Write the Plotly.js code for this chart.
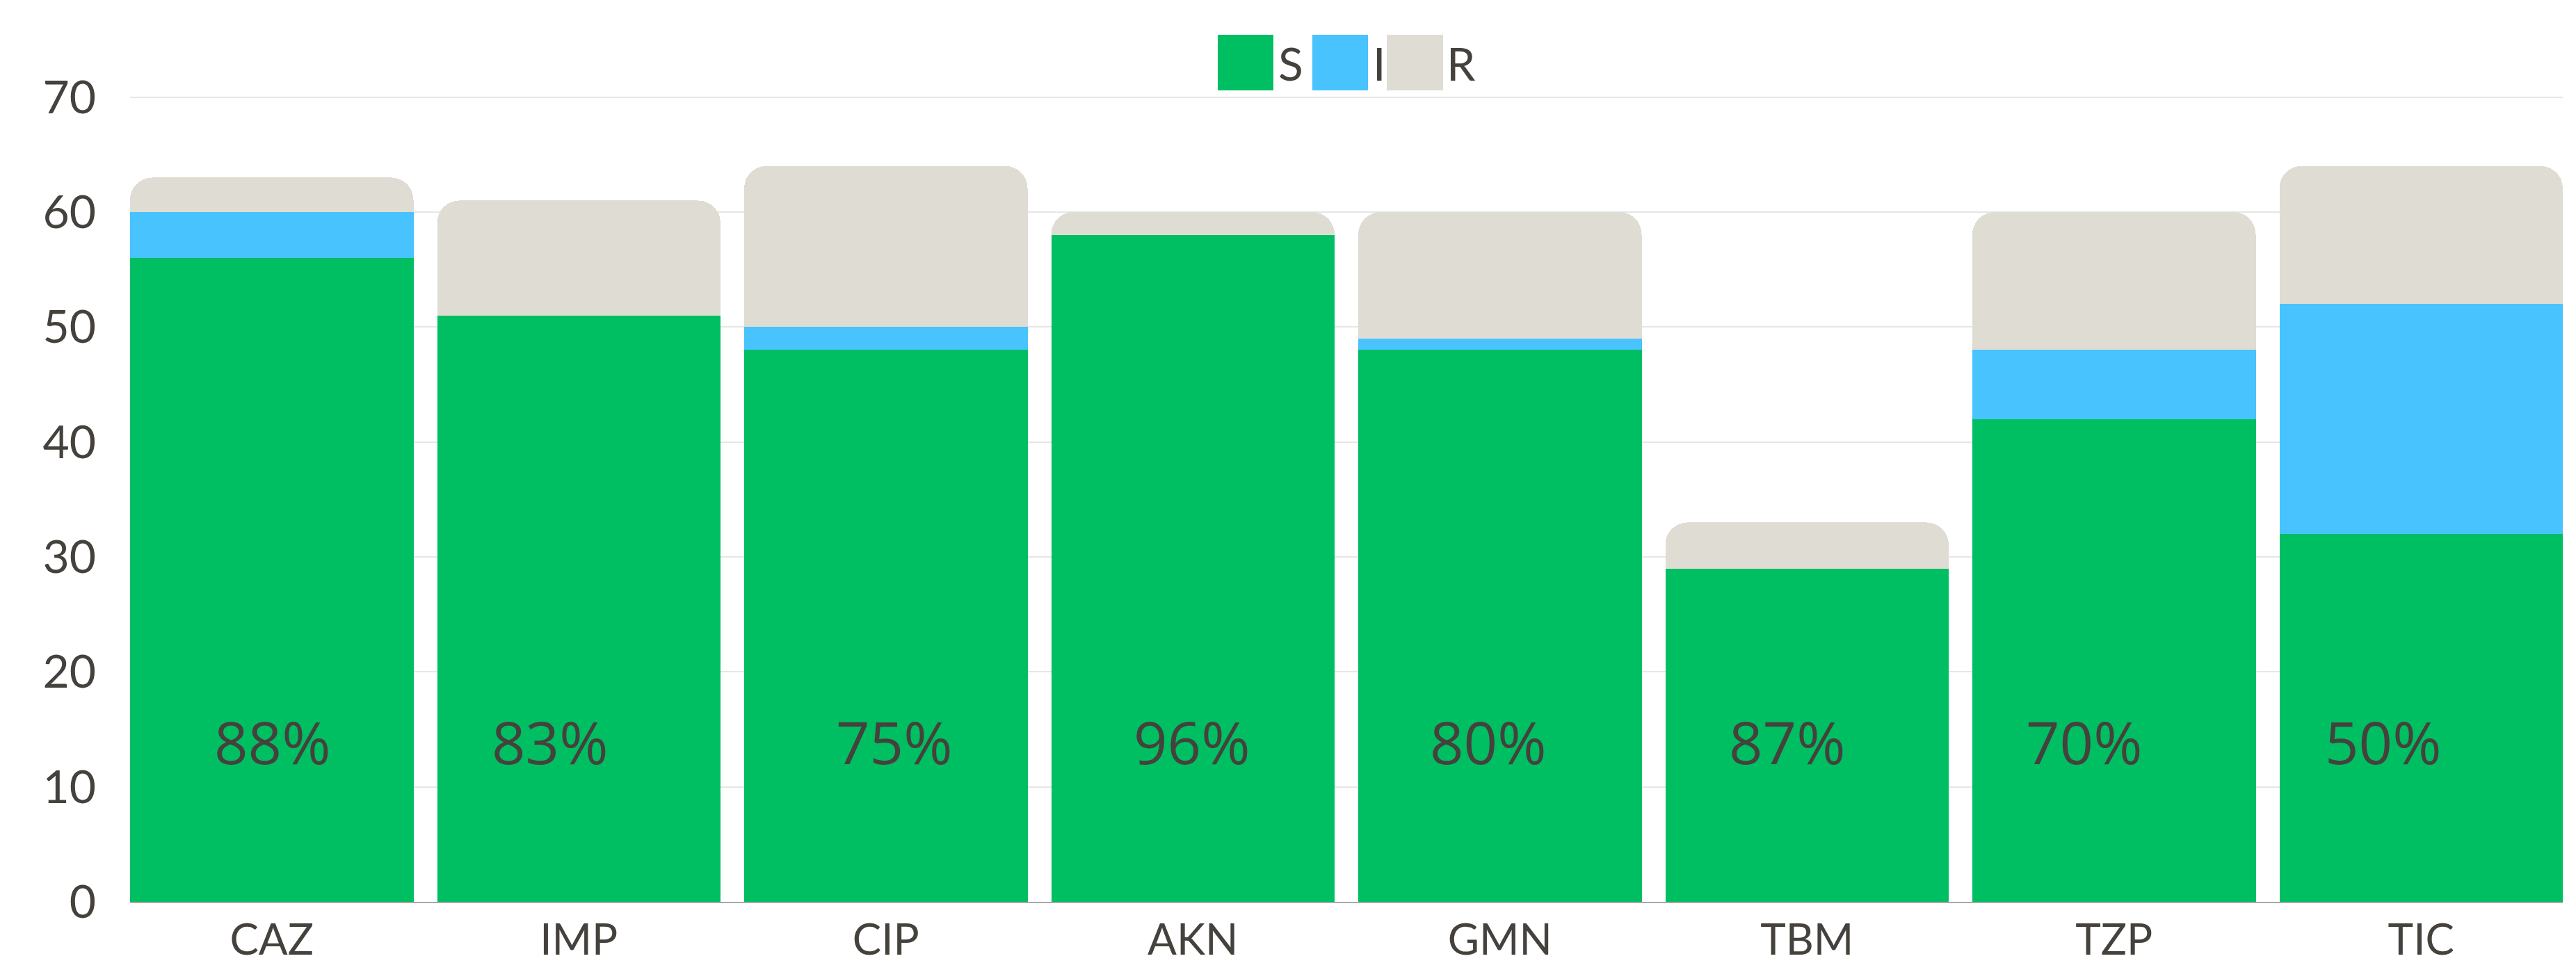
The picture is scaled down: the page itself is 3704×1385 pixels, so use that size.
<!DOCTYPE html>
<html>
<head>
<meta charset="utf-8">
<script src="https://cdn.plot.ly/plotly-3.0.1.min.js"></script>
<style>html,body{margin:0;padding:0;background:#fff;}#chart{width:3704px;height:1385px;}</style>
</head>
<body>
<div id="chart"></div>
<script>
// ---- data ----
const categories = ["CAZ", "IMP", "CIP", "AKN", "GMN", "TBM", "TZP", "TIC"];
const seriesNames = ["S", "I", "R"];
const valuesS = [56, 51, 48, 58, 48, 29, 42, 32];
const valuesI = [4, 0, 2, 0, 1, 0, 6, 20];
const valuesR = [3, 10, 14, 2, 11, 4, 12, 12];
const pctLabels = ["88%", "83%", "75%", "96%", "80%", "87%", "70%", "50%"];
const yTickVals = [0, 10, 20, 30, 40, 50, 60, 70];

// ---- styles ----
const colors = ["#00BE62", "#48C3FE", "#DFDCD4"];
const textColor = "#45413C";
const axisFont = "Lato, 'Noto Sans', sans-serif";
const pctFont = "'Open Sans', 'Noto Sans', sans-serif";
const pctShift = [1, -42, 12, -2, -17, -29, -43, -55];
const pctY = 14;

const seriesValues = [valuesS, valuesI, valuesR];
const traces = seriesNames.map((name, i) => ({
  type: "bar",
  name: name,
  x: categories,
  y: seriesValues[i],
  marker: { color: colors[i], line: { width: 0 } },
  hoverinfo: "skip",
  showlegend: false
}));

const annotations = pctLabels.map((t, i) => ({
  x: categories[i], y: pctY, xref: "x", yref: "y",
  text: t, showarrow: false, xshift: pctShift[i],
  xanchor: "center", yanchor: "middle",
  font: { family: pctFont, size: 85, color: textColor }
}));

// custom legend (large square swatches)
const legendSwatchX = [[-185, -105], [-49, 31], [58, 139]];
const legendTextX = [-100, 36, 142];
const shapes = [];
seriesNames.forEach((n, i) => {
  shapes.push({
    type: "rect", xref: "paper", yref: "paper",
    xsizemode: "pixel", ysizemode: "pixel", xanchor: 0.5, yanchor: 1,
    x0: legendSwatchX[i][0], x1: legendSwatchX[i][1], y0: 8, y1: 88,
    fillcolor: colors[i], line: { width: 0 }
  });
  annotations.push({
    x: 0.5, y: 1, xref: "paper", yref: "paper",
    xshift: legendTextX[i], yshift: 48,
    xanchor: "left", yanchor: "middle", showarrow: false,
    text: n, font: { family: axisFont, size: 66, color: textColor }
  });
});

const layout = {
  width: 3704, height: 1385,
  margin: { l: 187, r: 19, t: 138, b: 88, pad: 0 },
  paper_bgcolor: "#ffffff", plot_bgcolor: "#ffffff",
  barmode: "stack",
  bargap: 0.077,
  barcornerradius: 32,
  showlegend: false,
  xaxis: {
    type: "category",
    range: [-0.4615, 7.4615],
    showgrid: false, zeroline: false,
    showline: true, linecolor: "#A8A8A8", linewidth: 2,
    ticks: "", ticklabelstandoff: 0,
    tickfont: { family: axisFont, size: 62, color: textColor },
    fixedrange: true
  },
  yaxis: {
    range: [0, 70.1],
    tickvals: yTickVals,
    showgrid: true, gridcolor: "#E6E6E6", gridwidth: 2,
    zeroline: false, showline: false,
    ticks: "", ticklabelstandoff: 48,
    tickfont: { family: axisFont, size: 66, color: textColor },
    fixedrange: true
  },
  shapes: shapes,
  annotations: annotations
};

Plotly.newPlot("chart", traces, layout, { staticPlot: true, displayModeBar: false });
</script>
</body>
</html>
